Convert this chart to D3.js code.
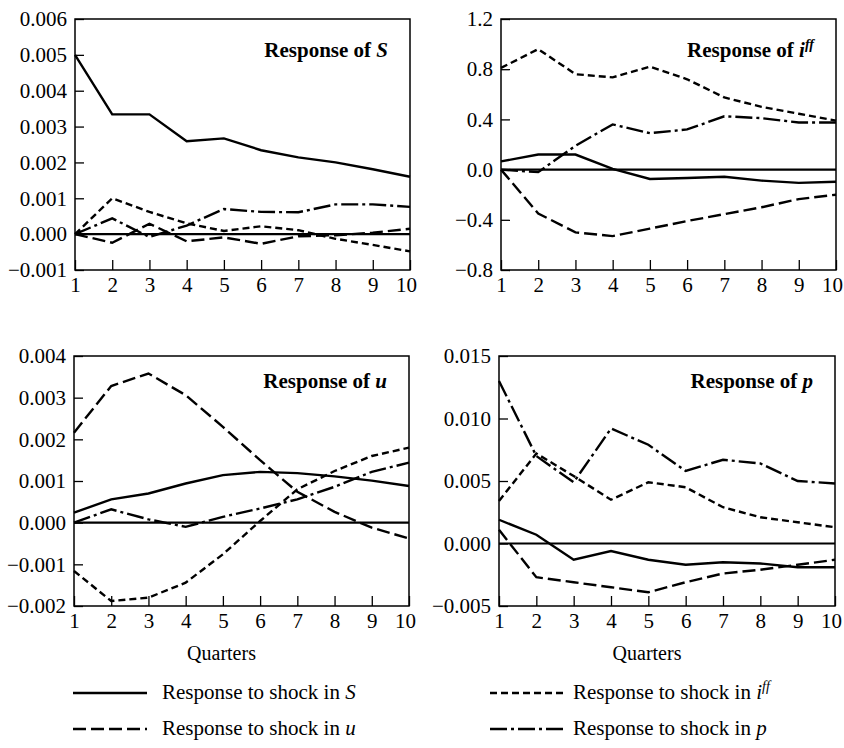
<!DOCTYPE html>
<html>
<head>
<meta charset="UTF-8">
<title>Impulse responses</title>
<script src="https://d3js.org/d3.v7.min.js"></script>
<style>
  body { margin: 0; background: #fff; }
  svg, svg text { font-family: "Liberation Serif", "Times New Roman", Times, serif; }
</style>
</head>
<body>
<div id="chart"></div>
<script>

// quarters on the x axis
var quarters = [1, 2, 3, 4, 5, 6, 7, 8, 9, 10];

// Response of S
var sFromS   = [0.00500, 0.00334, 0.00334, 0.00259, 0.00267, 0.00234, 0.00214, 0.00200, 0.00181, 0.00160];
var sFromIff = [0.00000, 0.00100, 0.00062, 0.00030, 0.00009, 0.00022, 0.00011, -0.00013, -0.00030, -0.00048];
var sFromU   = [0.00000, -0.00024, 0.00029, -0.00020, -0.00009, -0.00027, -0.00006, -0.00003, 0.00004, 0.00015];
var sFromP   = [0.00000, 0.00044, -0.00008, 0.00024, 0.00070, 0.00062, 0.00061, 0.00083, 0.00083, 0.00076];

// Response of i^ff
var iFromS   = [0.065, 0.12, 0.12, 0.005, -0.075, -0.067, -0.057, -0.088, -0.106, -0.097];
var iFromIff = [0.81, 0.96, 0.76, 0.735, 0.82, 0.72, 0.575, 0.50, 0.445, 0.39];
var iFromU   = [0.0, -0.35, -0.50, -0.53, -0.47, -0.41, -0.355, -0.30, -0.235, -0.20];
var iFromP   = [0.0, -0.02, 0.19, 0.36, 0.29, 0.32, 0.425, 0.41, 0.375, 0.375];

// Response of u
var uFromS   = [0.00024, 0.00056, 0.00070, 0.00094, 0.00114, 0.00122, 0.00119, 0.00111, 0.00101, 0.00088];
var uFromIff = [-0.00116, -0.00188, -0.00180, -0.00144, -0.00076, 0.00004, 0.00080, 0.00124, 0.00160, 0.00180];
var uFromU   = [0.00216, 0.00328, 0.00358, 0.00306, 0.00230, 0.00150, 0.00074, 0.00026, -0.00012, -0.00038];
var uFromP   = [0.00000, 0.00032, 0.00008, -0.00010, 0.00014, 0.00034, 0.00056, 0.00086, 0.00122, 0.00144];

// Response of p
var pFromS   = [0.0019, 0.0007, -0.0013, -0.0006, -0.0013, -0.0017, -0.0015, -0.0016, -0.0019, -0.0019];
var pFromIff = [0.0034, 0.0072, 0.0054, 0.0035, 0.0049, 0.0045, 0.0029, 0.0021, 0.0017, 0.0013];
var pFromU   = [0.0011, -0.0027, -0.0031, -0.0035, -0.0039, -0.0031, -0.0024, -0.0021, -0.0017, -0.0013];
var pFromP   = [0.0130, 0.0070, 0.0049, 0.0092, 0.0079, 0.0058, 0.0067, 0.0064, 0.0050, 0.0048];

// y tick labels
var yTicksS = [-0.001, 0, 0.001, 0.002, 0.003, 0.004, 0.005, 0.006];
var yTicksI = [-0.8, -0.4, 0, 0.4, 0.8, 1.2];
var yTicksU = [-0.002, -0.001, 0, 0.001, 0.002, 0.003, 0.004];
var yTicksP = [-0.005, 0, 0.005, 0.010, 0.015];

// line style per shock
var dashS = null, dashIff = "7,4", dashU = "13,5", dashP = "17,4,3,4";

var serif = "'Liberation Serif', 'Times New Roman', Times, serif";

var svg = d3.select("#chart").append("svg")
    .attr("width", 844)
    .attr("height", 748)
    .attr("font-family", serif);

var panels = [
  { x0: 75, x1: 410, y0: 19, y1: 270, ticks: yTicksS, fmt: ".3f", name: "S", titleY: 57,
    series: [sFromS, sFromIff, sFromU, sFromP] },
  { x0: 501, x1: 836, y0: 19, y1: 270, ticks: yTicksI, fmt: ".1f", name: "iff", titleY: 57,
    series: [iFromS, iFromIff, iFromU, iFromP] },
  { x0: 74, x1: 409, y0: 356, y1: 606, ticks: yTicksU, fmt: ".3f", name: "u", titleY: 388,
    series: [uFromS, uFromIff, uFromU, uFromP] },
  { x0: 499, x1: 835, y0: 356, y1: 606, ticks: yTicksP, fmt: ".3f", name: "p", titleY: 388,
    series: [pFromS, pFromIff, pFromU, pFromP] }
];
var dashes = [dashS, dashIff, dashU, dashP];

panels.forEach(function(p, k) {
  var x = d3.scaleLinear().domain([1, 10]).range([p.x0, p.x1]);
  var y = d3.scaleLinear().domain(d3.extent(p.ticks)).range([p.y1, p.y0]);

  var g = svg.append("g");

  // x axis, ticks pointing inward
  var xa = g.append("g")
    .attr("transform", "translate(0," + p.y1 + ")")
    .call(d3.axisBottom(x).tickValues(quarters).tickFormat(d3.format("d")).tickSize(-10).tickPadding(7));
  xa.select(".domain").remove();
  // the "10" sits a little left of its tick, as in the print
  xa.selectAll(".tick text").filter(function(d) { return d == 10; }).attr("dx", -4);

  // y axis
  var ya = g.append("g")
    .attr("transform", "translate(" + p.x0 + ",0)")
    .call(d3.axisLeft(y).tickValues(p.ticks).tickFormat(d3.format(p.fmt)).tickSize(-9).tickPadding(8));
  ya.select(".domain").remove();

  [xa, ya].forEach(function(a) {
    a.attr("font-family", serif).attr("font-size", 21);
    a.selectAll(".tick line").attr("stroke", "#000").attr("stroke-width", 1.3);
    a.selectAll(".tick text").attr("fill", "#000");
  });

  // frame
  g.append("rect")
    .attr("x", p.x0).attr("y", p.y0)
    .attr("width", p.x1 - p.x0).attr("height", p.y1 - p.y0)
    .attr("fill", "none").attr("stroke", "#000").attr("stroke-width", 1.5);

  // zero line
  g.append("line")
    .attr("x1", p.x0).attr("x2", p.x1)
    .attr("y1", y(0)).attr("y2", y(0))
    .attr("stroke", "#000").attr("stroke-width", 2.2);

  var line = d3.line()
    .x(function(d, i) { return x(quarters[i]); })
    .y(function(d) { return y(d); });

  p.series.forEach(function(s, j) {
    g.append("path")
      .datum(s)
      .attr("d", line)
      .attr("fill", "none")
      .attr("stroke", "#000")
      .attr("stroke-width", 2.4)
      .attr("stroke-dasharray", dashes[j]);
  });

  // panel title
  var t = g.append("text")
    .attr("x", p.x1 - 22).attr("y", p.titleY)
    .attr("text-anchor", "end")
    .style("font-size", "21px").style("font-weight", "bold");
  t.append("tspan").text("Response of ");
  if (p.name == "iff") {
    t.append("tspan").style("font-style", "italic").text("i");
    t.append("tspan").style("font-style", "italic").style("font-size", "14px")
      .attr("dy", -8).text("ff");
  } else {
    t.append("tspan").style("font-style", "italic").text(p.name);
  }

  // Quarters label under the bottom row
  if (k >= 2) {
    svg.append("text")
      .attr("x", (p.x0 + p.x1) / 2 - 20).attr("y", 660)
      .attr("text-anchor", "middle")
      .style("font-size", "20px")
      .text("Quarters");
  }
});

// legend
var legend = [
  { x: 73, tx: 162, y: 693, dash: dashS, sym: "S" },
  { x: 490, tx: 573, y: 693, dash: dashIff, sym: "iff" },
  { x: 73, tx: 162, y: 729, dash: dashU, sym: "u" },
  { x: 490, tx: 573, y: 729, dash: dashP, sym: "p" }
];

legend.forEach(function(l) {
  svg.append("line")
    .attr("x1", l.x).attr("x2", l.x + 74)
    .attr("y1", l.y).attr("y2", l.y)
    .attr("stroke", "#000").attr("stroke-width", 2.4)
    .attr("stroke-dasharray", l.dash);
  var t = svg.append("text")
    .attr("x", l.tx).attr("y", l.y + 6)
    .style("font-size", "21px");
  t.append("tspan").text("Response to shock in ");
  if (l.sym == "iff") {
    t.append("tspan").style("font-style", "italic").text("i");
    t.append("tspan").style("font-style", "italic").style("font-size", "14px")
      .attr("dy", -8).text("ff");
  } else {
    t.append("tspan").style("font-style", "italic").text(l.sym);
  }
});

</script>
</body>
</html>
